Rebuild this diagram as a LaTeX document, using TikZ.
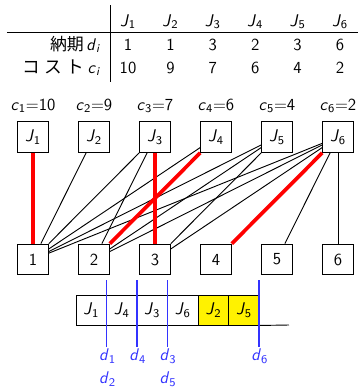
\documentclass[tikz,border=0pt]{standalone}
\usepackage{fontspec}
\newfontfamily\jpfont{Noto Sans CJK JP}
\newcommand\mv[2]{\textit{#1}\textsubscript{#2}}
\definecolor{dueblue}{rgb}{0.2,0.2,1}
\tikzset{
  job/.style={draw,line width=0.6pt,minimum size=20pt,inner sep=0pt},
  slot/.style={draw,line width=0.6pt,minimum width=19.8pt,minimum height=19.5pt,inner sep=0pt},
  edge/.style={line width=0.6pt},
  pick/.style={red,line width=2.4pt},
  dline/.style={dueblue,line width=0.8pt},
  dlab/.style={dueblue,inner sep=1pt},
}
\begin{document}
\begin{tikzpicture}[x=0.65pt,y=-0.65pt,font=\sffamily\fontsize{11}{13}\selectfont]
\useasboundingbox (0,0) rectangle (361,392);

% table
\draw[line width=0.6pt] (110,5) -- (110,82);
\draw[line width=0.6pt] (7,32) -- (358,32);
\node[anchor=base] (h1) at (128,26) {\mv{J}{1}};
\node[anchor=base] (h2) at (170.4,26) {\mv{J}{2}};
\node[anchor=base] (h3) at (212.8,26) {\mv{J}{3}};
\node[anchor=base] (h4) at (255.2,26) {\mv{J}{4}};
\node[anchor=base] (h5) at (297.6,26) {\mv{J}{5}};
\node[anchor=base] (h6) at (340,26) {\mv{J}{6}};
\node[anchor=base east] (rowd) at (106,50) {{\jpfont 納期}\hspace{1.6pt}\mv{d}{\textit{i}}};
\node[anchor=base] (dd1) at (128,50) {1};
\node[anchor=base] (dd2) at (170.4,50) {1};
\node[anchor=base] (dd3) at (212.8,50) {3};
\node[anchor=base] (dd4) at (255.2,50) {2};
\node[anchor=base] (dd5) at (297.6,50) {3};
\node[anchor=base] (dd6) at (340,50) {6};
\node[anchor=base east] (rowc) at (106,73) {{\jpfont\fontsize{11.5}{13}\selectfont コ\hspace{3pt}ス\hspace{3pt}ト}\hspace{2.2pt}\mv{c}{\textit{i}}};
\node[anchor=base] (cc1) at (128,73) {10};
\node[anchor=base] (cc2) at (170.4,73) {9};
\node[anchor=base] (cc3) at (212.8,73) {7};
\node[anchor=base] (cc4) at (255.2,73) {6};
\node[anchor=base] (cc5) at (297.6,73) {4};
\node[anchor=base] (cc6) at (340,73) {2};

% jobs
\node (c1) at (33,106) {\mv{c}{1}=10};
\node (c2) at (94,106) {\mv{c}{2}=9};
\node (c3) at (155,106) {\mv{c}{3}=7};
\node (c4) at (216,106) {\mv{c}{4}=6};
\node (c5) at (277,106) {\mv{c}{5}=4};
\node (c6) at (338,106) {\mv{c}{6}=2};
\node[job] (J1) at (33,137) {\mv{J}{1}};
\node[job] (J2) at (94,137) {\mv{J}{2}};
\node[job] (J3) at (155,137) {\mv{J}{3}};
\node[job] (J4) at (216,137) {\mv{J}{4}};
\node[job] (J5) at (277,137) {\mv{J}{5}};
\node[job] (J6) at (338,137) {\mv{J}{6}};

% slots
\node[job] (n1) at (33,259.5) {1};
\node[job] (n2) at (94,259.5) {2};
\node[job] (n3) at (155,259.5) {3};
\node[job] (n4) at (216,259.5) {4};
\node[job] (n5) at (277,259.5) {5};
\node[job] (n6) at (338,259.5) {6};

\draw[edge] (J2) -- (n1);
\draw[edge] (J3) -- (n1);
\draw[edge] (J3) -- (n2);
\draw[edge] (J4) -- (n1);
\draw[edge] (J5) -- (n1);
\draw[edge] (J5) -- (n2);
\draw[edge] (J5) -- (n3);
\draw[edge] (J6) -- (n1);
\draw[edge] (J6) -- (n2);
\draw[edge] (J6) -- (n3);
\draw[edge] (J6) -- (n5);
\draw[edge] (J6) -- (n6);

\draw[pick] (J1) -- (n1);
\draw[pick] (J3) -- (n3);
\draw[pick] (J4) -- (n2);
\draw[pick] (J6) -- (n4);

% schedule
\node[slot] (s1) at (91.3,310) {\mv{J}{1}};
\node[slot] (s2) at (121.8,310) {\mv{J}{4}};
\node[slot] (s3) at (152.2,310) {\mv{J}{3}};
\node[slot] (s4) at (182.8,310) {\mv{J}{6}};
\node[slot,fill=yellow] (s5) at (213.5,310) {\mv{J}{2}};
\node[slot,fill=yellow] (s6) at (244,310) {\mv{J}{5}};
\coordinate (tail) at (289,325);
\draw[line width=0.6pt] (s6.south east) -- (tail);

% due dates
\node[dlab] (d1) at (107.5,356) {\mv{d}{1}};
\node[dlab] (d2) at (107.5,379) {\mv{d}{2}};
\node[dlab] (d4) at (137.8,356) {\mv{d}{4}};
\node[dlab] (d3) at (168.1,356) {\mv{d}{3}};
\node[dlab] (d5) at (168.1,379) {\mv{d}{5}};
\node[dlab] (d6) at (259.8,356) {\mv{d}{6}};
\coordinate (t1) at (106.7,280);
\coordinate (t4) at (137,280);
\coordinate (t3) at (167.3,280);
\coordinate (t6) at (259,280);
\draw[dline] (t1) -- (t1 |- d1.north);
\draw[dline] (t4) -- (t4 |- d4.north);
\draw[dline] (t3) -- (t3 |- d3.north);
\draw[dline] (t6) -- (t6 |- d6.north);
\end{tikzpicture}
\end{document}
